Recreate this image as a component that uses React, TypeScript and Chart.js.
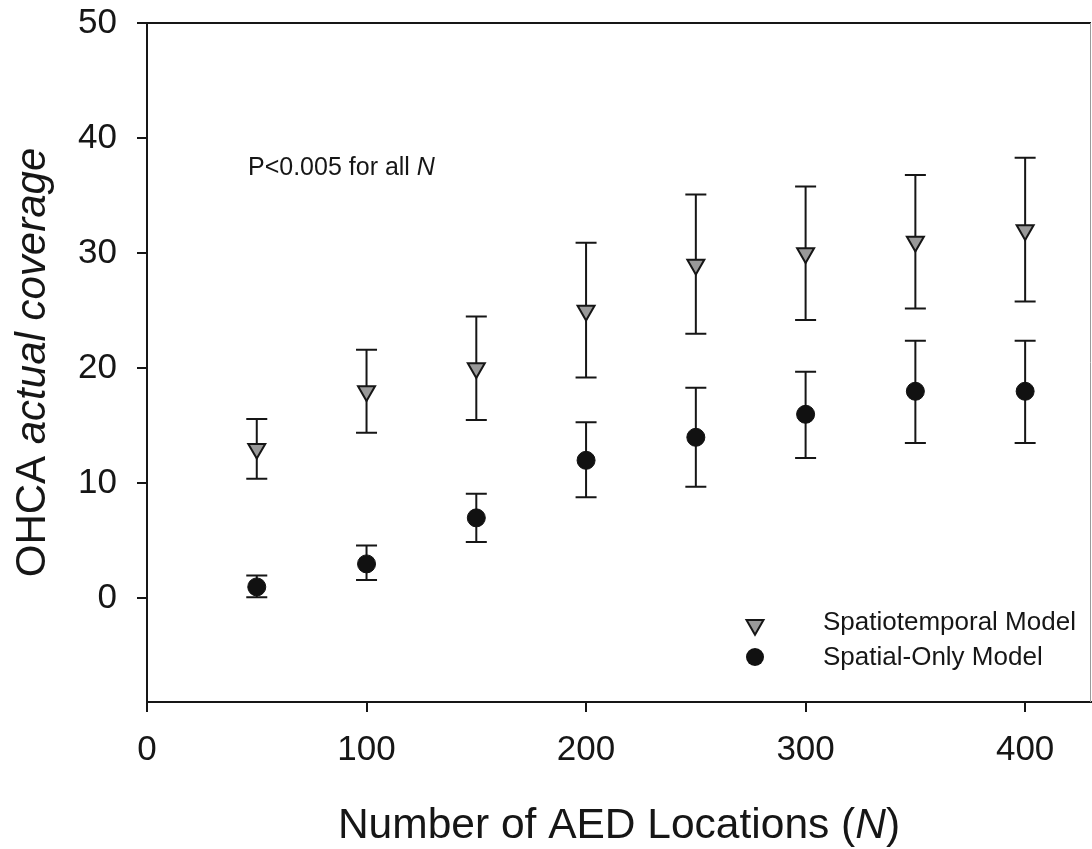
import React, { useEffect, useRef } from "react";
import { Chart, registerables } from "chart.js";

Chart.register(...registerables);

// ---- data ----
const nValues = [50, 100, 150, 200, 250, 300, 350, 400];
const stMean = [13, 18, 20, 25, 29, 30, 31, 32];
const stLow = [10.4, 14.4, 15.5, 19.2, 23.0, 24.2, 25.2, 25.8];
const stHigh = [15.6, 21.6, 24.5, 30.9, 35.1, 35.8, 36.8, 38.3];
const spMean = [1, 3, 7, 12, 14, 16, 18, 18];
const spLow = [0.1, 1.6, 4.9, 8.8, 9.7, 12.2, 13.5, 13.5];
const spHigh = [2.0, 4.6, 9.1, 15.3, 18.3, 19.7, 22.4, 22.4];

const seriesLabels = ["Spatiotemporal Model", "Spatial-Only Model"];
const xTitleParts = ["Number of AED Locations (", "N", ")"];
const yTitleParts = ["OHCA ", "actual coverage"];
const noteParts = ["P<0.005 for all ", "N"];

const FONT = "'Liberation Sans', Arial, Helvetica, sans-serif";
const INK = "#161616";

function drawMixed(ctx: CanvasRenderingContext2D, parts: string[], italics: boolean[], size: number, x: number, y: number, align: "left" | "center") {
  const fonts = italics.map((it) => `${it ? "italic " : ""}${size}px ${FONT}`);
  const widths = parts.map((p, i) => {
    ctx.font = fonts[i];
    return ctx.measureText(p).width;
  });
  const total = widths.reduce((a, b) => a + b, 0);
  let cx = align === "center" ? x - total / 2 : x;
  ctx.textAlign = "left";
  ctx.textBaseline = "alphabetic";
  parts.forEach((p, i) => {
    ctx.font = fonts[i];
    ctx.fillText(p, cx, y);
    cx += widths[i];
  });
}

const zeroPadding = (scale: any) => {
  scale.paddingLeft = 0;
  scale.paddingRight = 0;
  scale.paddingTop = 0;
  scale.paddingBottom = 0;
};

const overlayPlugin = {
  id: "overlay",
  beforeDatasetsDraw(chart: any) {
    const { ctx, scales } = chart;
    const x = scales.x;
    const y = scales.y;
    ctx.save();
    ctx.strokeStyle = INK;
    ctx.lineWidth = 2;
    const cap = 10.5;
    const bars = (lo: number[], hi: number[]) => {
      nValues.forEach((n, i) => {
        const px = x.getPixelForValue(n);
        const y1 = y.getPixelForValue(hi[i]);
        const y2 = y.getPixelForValue(lo[i]);
        ctx.beginPath();
        ctx.moveTo(px, y1);
        ctx.lineTo(px, y2);
        ctx.moveTo(px - cap, y1);
        ctx.lineTo(px + cap, y1);
        ctx.moveTo(px - cap, y2);
        ctx.lineTo(px + cap, y2);
        ctx.stroke();
      });
    };
    bars(stLow, stHigh);
    bars(spLow, spHigh);
    ctx.restore();
  },
  afterDraw(chart: any) {
    const { ctx, chartArea } = chart;
    const { left, right, top, bottom } = chartArea;
    ctx.save();
    // frame: top & right
    ctx.strokeStyle = INK;
    ctx.lineWidth = 2;
    ctx.beginPath();
    ctx.moveTo(left, top);
    ctx.lineTo(right, top);
    ctx.stroke();
    ctx.strokeStyle = "#9a9a9a";
    ctx.lineWidth = 1;
    ctx.beginPath();
    ctx.moveTo(right - 0.5, top);
    ctx.lineTo(right - 0.5, bottom);
    ctx.stroke();

    ctx.fillStyle = INK;
    // x title
    drawMixed(ctx, xTitleParts, [false, true, false], 42.5, (left + right) / 2, 838, "center");
    // y title
    ctx.save();
    ctx.translate(45, (top + bottom) / 2);
    ctx.rotate(-Math.PI / 2);
    drawMixed(ctx, yTitleParts, [false, true], 42, 0, 0, "center");
    ctx.restore();

    // annotation
    drawMixed(ctx, noteParts, [false, true], 25, left + 101, top + 152, "left");

    // legend
    const lx = left + 608;
    const ly1 = top + 602;
    const ly2 = top + 634;
    // triangle
    ctx.beginPath();
    const r = 9.8;
    ctx.moveTo(lx - r * 0.866, ly1 - r * 0.5);
    ctx.lineTo(lx + r * 0.866, ly1 - r * 0.5);
    ctx.lineTo(lx, ly1 + r);
    ctx.closePath();
    ctx.fillStyle = "#999999";
    ctx.fill();
    ctx.strokeStyle = INK;
    ctx.lineWidth = 2;
    ctx.stroke();
    // circle
    ctx.beginPath();
    ctx.arc(lx, ly2, 9, 0, Math.PI * 2);
    ctx.fillStyle = "#111111";
    ctx.fill();

    ctx.fillStyle = INK;
    ctx.font = `26px ${FONT}`;
    ctx.textAlign = "left";
    ctx.textBaseline = "middle";
    ctx.fillText(seriesLabels[0], left + 676, ly1 - 2);
    ctx.fillText(seriesLabels[1], left + 676, ly2 + 1);
    ctx.restore();
  },
};

export default function App() {
  const canvasRef = useRef<HTMLCanvasElement | null>(null);

  useEffect(() => {
    const canvas = canvasRef.current;
    if (!canvas) return;
    const tickFont = { family: FONT, size: 35 };
    const chart = new Chart(canvas, {
      type: "scatter",
      data: {
        datasets: [
          {
            label: seriesLabels[0],
            data: nValues.map((n, i) => ({ x: n, y: stMean[i] })),
            pointStyle: "triangle",
            rotation: 180,
            pointRadius: 9.8,
            pointHoverRadius: 9.8,
            backgroundColor: "#999999",
            borderColor: INK,
            borderWidth: 2,
          },
          {
            label: seriesLabels[1],
            data: nValues.map((n, i) => ({ x: n, y: spMean[i] })),
            pointStyle: "circle",
            pointRadius: 9,
            pointHoverRadius: 9,
            backgroundColor: "#111111",
            borderColor: "#111111",
            borderWidth: 1,
          },
        ],
      },
      options: {
        responsive: false,
        animation: false,
        devicePixelRatio: 1,
        layout: { autoPadding: false, padding: { top: 23, right: 1, left: 0, bottom: 0 } },
        plugins: {
          legend: { display: false },
          tooltip: { enabled: false },
        },
        scales: {
          x: {
            type: "linear",
            min: 0,
            max: 430,
            border: { display: true, color: INK, width: 2 },
            grid: { drawOnChartArea: false, drawTicks: true, tickLength: 10, color: INK, lineWidth: 2 },
            ticks: { stepSize: 100, includeBounds: false, font: tickFont, color: INK, padding: 17, maxRotation: 0 },
            afterFit: (scale: any) => {
              scale.height = 147;
              zeroPadding(scale);
            },
          },
          y: {
            type: "linear",
            min: -9,
            max: 50,
            border: { display: true, color: INK, width: 2 },
            grid: { drawOnChartArea: false, drawTicks: true, tickLength: 10, color: INK, lineWidth: 2 },
            ticks: { stepSize: 10, includeBounds: false, font: tickFont, color: INK, padding: 20 },
            afterFit: (scale: any) => {
              scale.width = 147;
              zeroPadding(scale);
            },
          },
        },
      },
      plugins: [overlayPlugin],
    } as any);
    return () => chart.destroy();
  }, []);

  return (
    <div style={{ position: "fixed", left: 0, top: 0, width: 1092, height: 849, background: "#fff" }}>
      <canvas ref={canvasRef} width={1092} height={849} style={{ width: 1092, height: 849, display: "block" }} />
    </div>
  );
}
